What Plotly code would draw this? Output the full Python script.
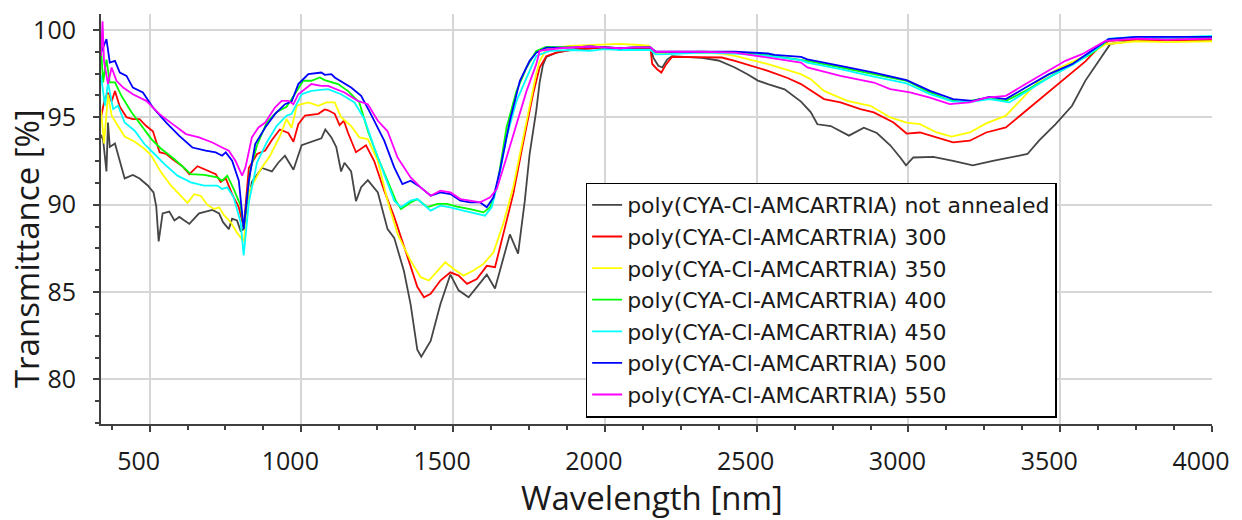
import plotly.graph_objects as go

# ---------------- data (wavelength in nm, transmittance in %) ----------------
series_names = [
    "poly(CYA-Cl-AMCARTRIA) not annealed",
    "poly(CYA-Cl-AMCARTRIA) 300",
    "poly(CYA-Cl-AMCARTRIA) 350",
    "poly(CYA-Cl-AMCARTRIA) 400",
    "poly(CYA-Cl-AMCARTRIA) 450",
    "poly(CYA-Cl-AMCARTRIA) 500",
    "poly(CYA-Cl-AMCARTRIA) 550",
]
series_colors = ["#454545", "#ff0000", "#ffff00", "#00ff00", "#00ffff", "#0000ff", "#ff00ff"]

wl_na = [340,347,358,363,369,386,402,418,445,467,494,513,522,530,543,565,582,598,631,663,707,729,742,761,772,788,800,810,837,870,903,924,946,974,1001,1033,1066,1079,1099,1115,1131,1142,1164,1180,1197,1219,1252,1284,1306,1338,1360,1382,1395,1426,1458,1491,1518,1551,1578,1611,1638,1665,1687,1714,1736,1752,1774,1785,1796,1807,1840,1883,1950,2000,2050,2100,2150,2160,2176,2189,2205,2221,2319,2374,2428,2471,2504,2537,2592,2646,2678,2700,2744,2804,2853,2896,2940,2973,2992,3016,3082,3147,3212,3278,3343,3392,3430,3484,3539,3583,3665,3750,3850,4000]
t_na = [94.0,93.7,91.9,94.7,93.3,93.5,92.5,91.5,91.7,91.5,91.1,90.7,89.9,87.9,89.5,89.6,89.1,89.3,88.9,89.5,89.7,89.5,89.0,88.6,89.2,89.1,88.5,88.6,91.3,92.1,91.9,92.4,92.8,92.0,93.4,93.6,93.8,94.3,93.85,93.3,91.9,92.4,91.9,90.2,91.0,91.4,90.7,88.6,88.1,86.2,84.3,81.7,81.3,82.2,84.3,86.0,85.1,84.7,85.3,86.0,85.2,87.0,88.3,87.2,90.2,92.9,95.4,97.0,98.0,98.45,98.7,98.85,98.95,99.0,98.9,98.95,99.0,98.4,97.95,97.85,98.3,98.5,98.4,98.25,97.85,97.45,97.1,96.9,96.6,95.9,95.3,94.6,94.5,93.95,94.4,94.1,93.4,92.7,92.25,92.7,92.74,92.5,92.25,92.5,92.74,92.9,93.66,94.6,95.66,97.1,99.2,99.4,99.45,99.4]

wl_300 = [340,353,363,375,386,402,424,445,467,489,511,533,555,576,608,631,658,685,718,734,751,772,794,810,827,854,881,903,929,957,974,990,1012,1056,1077,1088,1110,1126,1140,1154,1164,1180,1213,1240,1273,1306,1350,1382,1404,1426,1458,1491,1518,1546,1578,1611,1638,1665,1698,1730,1763,1785,1807,1840,1905,1950,2000,2050,2100,2150,2156,2172,2186,2202,2221,2319,2385,2428,2482,2537,2602,2646,2722,2776,2842,2886,2951,2994,3038,3093,3147,3202,3256,3321,3386,3452,3539,3583,3627,3659,3750,3850,4000]
t_300 = [95.0,96.1,96.4,95.9,96.5,95.6,95.0,94.9,94.9,94.5,94.2,93.0,92.9,92.6,92.2,91.75,92.2,92.0,91.75,91.3,91.5,90.6,89.85,88.7,92.1,92.9,93.1,93.7,94.3,94.1,93.6,94.6,95.1,95.2,95.45,95.4,95.2,94.55,94.8,94.1,93.66,93.0,93.4,92.5,90.8,89.3,87.0,85.3,84.7,84.9,85.66,86.13,85.94,85.47,85.75,86.5,86.42,88.3,90.6,93.47,96.3,97.85,98.5,98.7,98.9,98.95,99.0,98.95,98.95,98.95,98.05,97.75,97.56,98.04,98.46,98.42,98.42,98.23,97.94,97.66,97.25,96.9,96.04,95.85,95.47,95.28,94.7,94.07,94.13,93.85,93.56,93.66,94.13,94.42,95.37,96.32,97.56,98.2,99.0,99.37,99.45,99.4,99.45]

wl_350 = [340,350,363,375,396,418,451,483,506,538,570,604,625,647,669,690,712,729,745,767,788,810,832,865,897,929,951,968,985,1001,1023,1056,1083,1110,1131,1164,1191,1219,1252,1284,1317,1360,1393,1420,1448,1474,1502,1534,1567,1600,1633,1665,1698,1730,1763,1774,1785,1807,1883,1950,1992,2050,2100,2145,2167,2210,2319,2385,2428,2537,2646,2678,2722,2798,2875,2940,2994,3038,3093,3142,3202,3256,3321,3376,3430,3495,3605,3649,3750,3850,4000]
t_350 = [95.4,93.5,96.3,95.1,94.5,93.9,93.6,93.2,92.8,91.85,91.1,90.5,90.1,90.6,90.5,90.0,89.75,89.85,89.4,89.0,88.4,87.9,90.9,92.0,92.8,93.9,94.9,94.4,95.66,95.75,95.85,95.66,95.85,95.85,95.0,94.5,93.85,93.75,92.5,90.23,88.32,86.8,85.85,85.66,86.23,86.7,86.32,85.94,86.23,86.61,87.27,88.9,91.0,93.66,96.5,97.5,98.2,98.9,99.09,99.15,99.18,99.2,99.15,99.1,98.65,98.7,98.7,98.65,98.51,98.04,97.47,97.18,96.51,95.94,95.66,94.99,94.7,94.61,94.13,93.89,94.13,94.65,95.09,96.13,97.09,97.8,98.7,99.18,99.35,99.3,99.35]

wl_400 = [340,347,358,369,386,408,440,473,506,538,582,614,636,680,723,739,756,777,800,810,832,854,886,919,951,974,1006,1033,1061,1077,1104,1121,1154,1191,1219,1252,1284,1311,1328,1360,1382,1415,1448,1480,1513,1556,1600,1622,1644,1676,1709,1742,1774,1807,1900,1950,2000,2050,2100,2150,2167,2210,2319,2428,2537,2667,2776,2886,2994,3060,3125,3180,3234,3278,3321,3386,3463,3539,3600,3660,3750,3850,4000]
t_400 = [99.0,97.0,98.3,97.0,97.0,96.2,95.3,94.5,93.75,93.2,92.6,92.1,91.75,91.7,91.56,91.37,91.66,90.9,89.94,88.6,92.0,93.4,94.7,95.3,95.6,96.2,97.09,97.09,97.28,97.13,96.99,96.9,96.5,95.85,94.23,92.7,91.37,90.23,89.75,90.13,90.32,89.85,90.04,90.04,89.89,89.75,89.56,89.85,90.99,94.42,96.51,97.85,98.8,99.03,99.0,99.05,99.0,98.95,99.0,99.0,98.75,98.7,98.75,98.7,98.55,98.23,97.85,97.47,97.09,96.51,96.04,95.85,96.04,96.04,95.94,96.51,97.28,98.04,98.6,99.45,99.55,99.5,99.6]

wl_450 = [340,353,363,380,396,418,451,483,516,549,592,636,680,723,739,756,777,800,810,827,854,886,919,951,968,1001,1033,1088,1131,1175,1208,1240,1273,1306,1328,1360,1382,1426,1458,1491,1534,1578,1605,1627,1649,1676,1709,1752,1774,1818,1900,1950,2000,2050,2100,2150,2167,2210,2319,2428,2537,2646,2667,2776,2886,2994,3071,3147,3212,3267,3332,3386,3463,3550,3620,3660,3750,3850,4000]
t_450 = [97.4,95.66,96.99,95.47,95.66,94.7,94.23,93.47,92.9,92.32,91.66,91.28,91.09,91.09,90.9,90.99,90.42,88.99,87.09,90.13,92.42,93.56,94.51,95.09,95.2,96.32,96.51,96.61,96.32,95.85,94.89,93.27,91.75,90.23,89.85,90.23,90.32,89.66,89.94,89.85,89.66,89.5,89.37,89.85,91.37,93.85,95.94,97.66,98.51,98.8,98.85,98.8,98.9,98.85,98.85,98.85,98.6,98.61,98.7,98.65,98.51,98.27,98.13,97.75,97.32,96.94,96.32,95.9,95.9,96.04,95.85,96.42,97.28,98.1,98.9,99.5,99.6,99.55,99.65]

wl_500 = [340,358,369,386,402,424,445,478,511,555,598,641,685,718,739,751,772,794,810,827,848,881,913,946,968,990,1001,1023,1066,1077,1099,1110,1164,1197,1229,1273,1306,1333,1360,1393,1426,1458,1491,1524,1556,1589,1611,1633,1654,1687,1720,1752,1774,1807,1900,1950,2000,2050,2100,2150,2167,2319,2428,2537,2559,2646,2667,2776,2886,2994,3071,3147,3212,3267,3321,3386,3463,3539,3572,3659,3750,3850,4000]
t_500 = [98.7,99.47,98.13,98.23,97.56,97.37,96.7,96.42,95.56,94.7,93.94,93.27,93.09,92.99,92.8,92.99,92.51,91.37,88.6,91.37,93.47,94.42,95.18,95.75,95.9,96.9,97.09,97.47,97.56,97.43,97.47,97.28,96.7,96.23,95.18,93.66,92.13,91.18,91.37,90.99,90.51,90.7,90.61,90.23,90.13,90.13,89.85,90.42,91.94,94.8,97.09,98.23,98.7,98.99,99.0,99.05,99.0,98.95,99.0,99.0,98.75,98.76,98.76,98.65,98.57,98.46,98.32,97.94,97.56,97.13,96.51,96.04,95.94,96.17,96.04,96.7,97.47,98.04,98.42,99.47,99.6,99.6,99.6]

wl_550 = [340,345,350,363,375,391,413,445,489,533,576,620,663,707,739,761,783,805,816,837,859,881,913,935,957,974,990,1023,1033,1066,1088,1142,1186,1219,1252,1284,1317,1360,1393,1426,1458,1491,1524,1556,1589,1622,1644,1676,1709,1742,1774,1785,1850,1950,2000,2050,2100,2150,2167,2319,2428,2537,2559,2646,2667,2776,2886,2940,3005,3071,3136,3202,3256,3321,3386,3463,3517,3572,3649,3750,3850,4000]
t_550 = [98.5,100.5,98.2,96.9,97.85,97.09,96.7,96.32,95.94,95.18,94.61,94.04,93.85,93.56,93.27,93.09,92.51,91.66,92.13,93.85,94.42,94.7,95.56,95.94,95.94,95.75,96.32,96.8,96.9,96.8,96.8,96.42,95.94,95.75,94.8,94.2,92.7,91.56,90.99,90.51,90.8,90.7,90.32,90.23,90.13,90.42,90.9,92.7,94.61,96.51,98.04,98.8,98.95,99.05,99.0,98.95,99.0,99.0,98.75,98.75,98.7,98.42,98.32,98.13,97.85,97.37,96.99,96.61,96.42,96.13,95.75,95.85,96.13,96.23,96.9,97.66,98.23,98.61,99.37,99.5,99.45,99.5]

x_tick_vals = [500, 1000, 1500, 2000, 2500, 3000, 3500, 4000]
y_tick_vals = [80, 85, 90, 95, 100]
x_title = "Wavelength [nm]"
y_title = "Transmittance [%]"

all_x = [wl_na, wl_300, wl_350, wl_400, wl_450, wl_500, wl_550]
all_y = [t_na, t_300, t_350, t_400, t_450, t_500, t_550]

# ---------------- figure ----------------
W, H = 1242, 520
ML, MR, MT, MB = 101, 20, 13, 96
PW, PH = W - ML - MR, H - MT - MB

def px_x(p):
    return (p - ML) / PW

def px_y(p):
    return (MT + PH - p) / PH

fig = go.Figure()
for name, col, xs, ys in zip(series_names, series_colors, all_x, all_y):
    fig.add_trace(go.Scatter(x=xs, y=ys, mode="lines", name=name,
                             line=dict(color=col, width=1.8)))

axis_common = dict(
    showline=True, linecolor="#404040", linewidth=2,
    ticks="outside", ticklen=6, tickwidth=1.5, tickcolor="#404040",
    showgrid=True, gridcolor="#d6d6d6", gridwidth=1.5,
    zeroline=False,
    tickfont=dict(family="Open Sans", size=25, color="#1a1a1a"),
)

# legend box geometry (pixels) and its drop shadow
LEG_L, LEG_T = 590, 182
LEG_W, LEG_H = 470, 233
SH = 3

fig.update_layout(
    width=W, height=H,
    margin=dict(l=ML, r=MR, t=MT, b=MB),
    paper_bgcolor="white", plot_bgcolor="white",
    xaxis=dict(range=[340, 4000], tickmode="array", tickvals=x_tick_vals,
               minor=dict(dtick=125, tick0=0, ticks="outside", ticklen=4,
                          tickcolor="#404040", showgrid=False),
               ticklabelstandoff=8, ticklabelshift=-11, **axis_common),
    yaxis=dict(range=[77.45, 100.91], tickmode="array", tickvals=y_tick_vals,
               minor=dict(dtick=1.25, tick0=0, ticks="outside", ticklen=4,
                          tickcolor="#404040", showgrid=False),
               ticklabelstandoff=12, **axis_common),
    showlegend=True,
    legend=dict(x=px_x(LEG_L), y=px_y(LEG_T), xanchor="left", yanchor="top",
                bgcolor="white", bordercolor="black", borderwidth=1.5,
                font=dict(family="DejaVu Sans", size=22, color="#1a1a1a"),
                tracegroupgap=0),
    annotations=[
        dict(text=x_title, xref="paper", yref="paper", x=px_x(657), y=px_y(498),
             xanchor="center", yanchor="middle", showarrow=False,
             font=dict(family="Open Sans", size=33, color="#1a1a1a")),
        dict(text=y_title, xref="paper", yref="paper", x=px_x(26), y=px_y(248),
             xanchor="center", yanchor="middle", showarrow=False, textangle=-90,
             font=dict(family="Open Sans", size=33, color="#1a1a1a")),
    ],
    shapes=[
        dict(type="rect", xref="paper", yref="paper", layer="above",
             x0=px_x(LEG_L + SH), x1=px_x(LEG_L + LEG_W + SH),
             y0=px_y(LEG_T + SH), y1=px_y(LEG_T + LEG_H + SH),
             fillcolor="black", line=dict(width=0)),
    ],
)

fig.write_html("out.html")
